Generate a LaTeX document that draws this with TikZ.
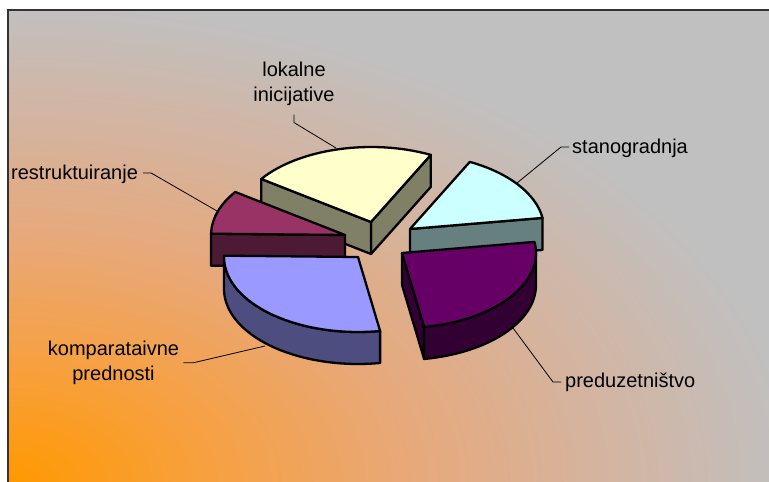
\documentclass[tikz,border=0pt]{standalone}
\usepackage{fontspec}
\setmainfont{Liberation Sans}
\usetikzlibrary{calc}

\definecolor{bgGrey}{HTML}{C0C0C0}
\definecolor{frameGrey}{HTML}{333333}
\definecolor{glowOrange}{HTML}{FF9900}
\definecolor{glowA}{HTML}{F7A040}
\definecolor{glowB}{HTML}{E8A878}
\definecolor{glowC}{HTML}{D4B4A0}
\definecolor{lokTop}{HTML}{FFFFCC}
\definecolor{lokSide}{HTML}{808066}
\definecolor{stanoTop}{HTML}{CCFFFF}
\definecolor{stanoSide}{HTML}{668080}
\definecolor{predTop}{HTML}{660066}
\definecolor{predSide}{HTML}{330033}
\definecolor{kompTop}{HTML}{9999FF}
\definecolor{kompSide}{HTML}{4D4D80}
\definecolor{restrTop}{HTML}{993366}
\definecolor{restrSide}{HTML}{4D1A33}

% path box is the middle 50bp of the shading
\pgfdeclareradialshading{cornerglow}{\pgfpoint{0bp}{0bp}}{color(0bp)=(glowOrange); color(6.25bp)=(glowA); color(12.5bp)=(glowB); color(18.75bp)=(glowC); color(25bp)=(bgGrey); color(50bp)=(bgGrey)}

\tikzset{
  pieedge/.style={draw=black, line width=2.3pt, line join=round},
  pielabel/.style={font=\fontsize{20}{24.5}\selectfont, inner sep=0pt, text=black},
  leader/.style={draw=black, line width=0.8pt}
}

% top face, cut face and rim of one slice
\newcommand{\pietop}[4]{\filldraw[pieedge, fill=#4] (#1) -- ++(#2:134 and 75)
  arc[start angle=#2, end angle=#3, x radius=134, y radius=75] -- cycle;}
\newcommand{\piecut}[3]{\filldraw[pieedge, fill=#3] (#1) -- ++(#2:134 and 75) -- ++(0,-32)
  -- ++(#2+180:134 and 75) -- cycle;}
\newcommand{\pierim}[4]{\filldraw[pieedge, fill=#4] (#1) ++(#2:134 and 75)
  arc[start angle=#2, end angle=#3, x radius=134, y radius=75] -- ++(0,-32)
  arc[start angle=#3, end angle=#2, x radius=134, y radius=75] -- cycle;}

\begin{document}
\begin{tikzpicture}[x=1pt, y=1pt]
	\useasboundingbox (0,0) rectangle (769,-482);
	\fill[white] (0,0) rectangle (769,-482);
	\begin{scope}
		\clip (8,-10) rectangle (790,-500);
		\fill[bgGrey] (8,-10) rectangle (790,-500);
		\shade[shading=cornerglow] (8,-482) ellipse [x radius=790, y radius=480];
	\end{scope}
	\draw[frameGrey, line width=2.5pt] (8,-10) rectangle (790,-500);

	\coordinate (lokApex) at (371,-222);
	\coordinate (stanoApex) at (410,-229);
	\coordinate (restrApex) at (345,-235);
	\coordinate (predApex) at (402,-253);
	\coordinate (kompApex) at (358,-257);

	% slices, back to front
	\piecut{lokApex}{63.5}{lokSide}
	\piecut{lokApex}{145}{lokSide}
	\pietop{lokApex}{63.5}{145}{lokTop}
	\piecut{stanoApex}{8.5}{stanoSide}
	\pietop{stanoApex}{8.5}{63.5}{stanoTop}
	\piecut{restrApex}{179}{restrSide}
	\pietop{restrApex}{145}{179}{restrTop}
	\piecut{predApex}{-80.5}{predSide}
	\pierim{predApex}{-80.5}{0}{predSide}
	\pietop{predApex}{-80.5}{8.5}{predTop}
	\pierim{kompApex}{180}{279.5}{kompSide}
	\pietop{kompApex}{179}{279.5}{kompTop}

	% labels
	\node (lokLabel) at (294,-62) [pielabel, anchor=north, align=center] {lokalne\\inicijative};
	\node (restrLabel) at (11,-179) [pielabel, anchor=base west] {restruktuiranje};
	\node (stanoLabel) at (572,-153) [pielabel, anchor=base west] {stanogradnja};
	\node (kompLabel) at (113.5,-341) [pielabel, anchor=north, align=center] {komparataivne\\prednosti};
	\node (predLabel) at (565,-387) [pielabel, anchor=base west] {preduzetništvo};

	\coordinate (lokEnd) at (336,-148);
	\coordinate (restrEnd) at (217,-211);
	\coordinate (stanoEnd) at (517,-183);
	\coordinate (kompEnd) at (265,-346);
	\coordinate (predEnd) at (513,-328);

	\draw[leader] ($(lokLabel.south)+(0,-9)$) -- ++(0,-8) -- (lokEnd);
	\draw[leader] ($(restrLabel.base east)+(5,6)$) -- ++(8,0) -- (restrEnd);
	\draw[leader] ($(stanoLabel.base west)+(-3,6)$) -- ++(-8,0) -- (stanoEnd);
	\draw[leader] ($(kompLabel.east)+(4,0)$) -- ++(10,0) -- (kompEnd);
	\draw[leader] ($(predLabel.base west)+(-4,5)$) -- ++(-8,0) -- (predEnd);
\end{tikzpicture}
\end{document}
